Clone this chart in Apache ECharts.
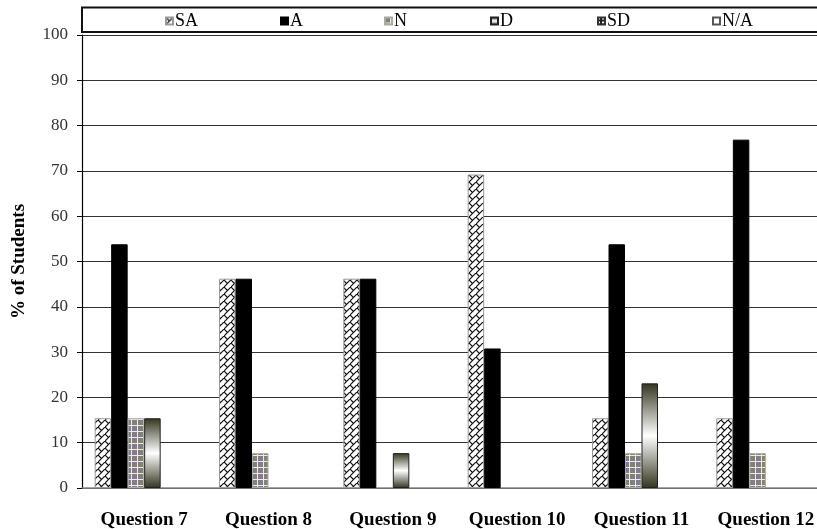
<!DOCTYPE html>
<html>
<head>
<meta charset="utf-8">
<script src="https://cdn.jsdelivr.net/npm/echarts@6/dist/echarts.min.js"></script>
<style>
  html, body { margin: 0; padding: 0; background: #fff; }
  #chart { width: 817px; height: 529px; }
</style>
</head>
<body>
<div id="chart"></div>
<script>
// data
const categories = ["Question 7", "Question 8", "Question 9", "Question 10", "Question 11", "Question 12"];
const seriesNames = ["SA", "A", "N", "D", "SD", "N/A"];
const saValues = [15.4, 46.2, 46.2, 69.2, 15.4, 15.4];
const aValues = [53.8, 46.2, 46.2, 30.8, 53.8, 76.9];
const nValues = [15.4, 7.7, 0, 0, 7.7, 7.7];
const dValues = [15.4, 0, 7.7, 0, 23.1, 0];
const sdValues = [0, 0, 0, 0, 0, 0];
const naValues = [0, 0, 0, 0, 0, 0];
const yTicks = [0, 10, 20, 30, 40, 50, 60, 70, 80, 90, 100];

// pattern fills, roughly like the Excel hatches
function makePattern(size, draw) {
  const c = document.createElement("canvas");
  c.width = size;
  c.height = size;
  draw(c.getContext("2d"), size);
  return { image: c, repeat: "repeat" };
}

const saFill = makePattern(7, (ctx, s) => {
  ctx.fillStyle = "#fff";
  ctx.fillRect(0, 0, s, s);
  ctx.strokeStyle = "#111";
  ctx.lineWidth = 1.2;
  ctx.beginPath();
  ctx.moveTo(0, s); ctx.lineTo(s, 0);
  ctx.moveTo(0, 0); ctx.lineTo(s / 2, s / 2);
  ctx.stroke();
});

const nFill = makePattern(6, (ctx, s) => {
  ctx.fillStyle = "#808080";
  ctx.fillRect(0, 0, s, s);
  ctx.fillStyle = "#f6f3b0";
  ctx.fillRect(s - 1, 0, 1, s);
  ctx.fillRect(0, s - 1, s, 1);
});

const sdFill = makePattern(4, (ctx, s) => {
  ctx.fillStyle = "#222";
  ctx.fillRect(0, 0, s, s);
  ctx.fillStyle = "#fff";
  ctx.fillRect(0, 0, 2, 2);
});

const dFill = new echarts.graphic.LinearGradient(0, 0, 0, 1, [
  { offset: 0, color: "#34341f" },
  { offset: 0.5, color: "#ffffff" },
  { offset: 1, color: "#34341f" }
]);

const chart = echarts.init(document.getElementById("chart"));

const fills = [saFill, "#000", nFill, dFill, sdFill, "#fff"];
const borders = ["#999", "#000", "#aaa", "#222", "#333", "#555"];
const values = [saValues, aValues, nValues, dValues, sdValues, naValues];
const legendLeft = [165, 280, 384, 490, 597, 712];

const serif = "Liberation Serif";

chart.setOption({
  animation: false,
  // the reference is cropped on the right, so the plot runs past the edge
  grid: { left: 82, width: 746, top: 35, bottom: 41, outerBoundsMode: "none" },
  graphic: [
    {
      type: "rect",
      shape: { x: 82, y: 7.5, width: 760, height: 24.5 },
      style: { fill: "none", stroke: "#111", lineWidth: 2 },
      z: 0
    }
  ],
  legend: seriesNames.map((name, i) => ({
    data: [name],
    icon: "rect",
    left: legendLeft[i],
    top: 12,
    padding: 0,
    itemWidth: 7,
    itemHeight: 7,
    itemGap: 0,
    selectedMode: false,
    textStyle: { fontFamily: serif, fontSize: 18, lineHeight: 18, color: "#000", padding: [0, 0, 0, -3] }
  })),
  xAxis: {
    type: "category",
    data: categories,
    axisTick: { show: false },
    axisLine: { lineStyle: { color: "#888", width: 1.5 } },
    axisLabel: {
      interval: 0,
      fontFamily: serif,
      fontSize: 19,
      fontWeight: "bold",
      color: "#000",
      margin: 23
    }
  },
  yAxis: {
    type: "value",
    min: yTicks[0],
    max: yTicks[yTicks.length - 1],
    interval: 10,
    name: "% of Students",
    nameLocation: "middle",
    nameGap: 53,
    nameTextStyle: { fontFamily: serif, fontSize: 19, fontWeight: "bold", color: "#000" },
    axisLine: { show: true, lineStyle: { color: "#000", width: 1.2 } },
    axisTick: { show: true, length: 5, lineStyle: { color: "#000" } },
    axisLabel: { fontFamily: serif, fontSize: 17, color: "#333", margin: 14 },
    splitLine: { lineStyle: { color: "#333", width: 1 } }
  },
  series: seriesNames.map((name, i) => ({
    name: name,
    type: "bar",
    // zero bars are not drawn in the reference
    data: values[i].map(v => (v === 0 ? null : v)),
    barWidth: 16.5,
    barGap: "0%",
    itemStyle: {
      color: fills[i],
      borderColor: borders[i],
      borderWidth: 1
    }
  }))
});
</script>
</body>
</html>
